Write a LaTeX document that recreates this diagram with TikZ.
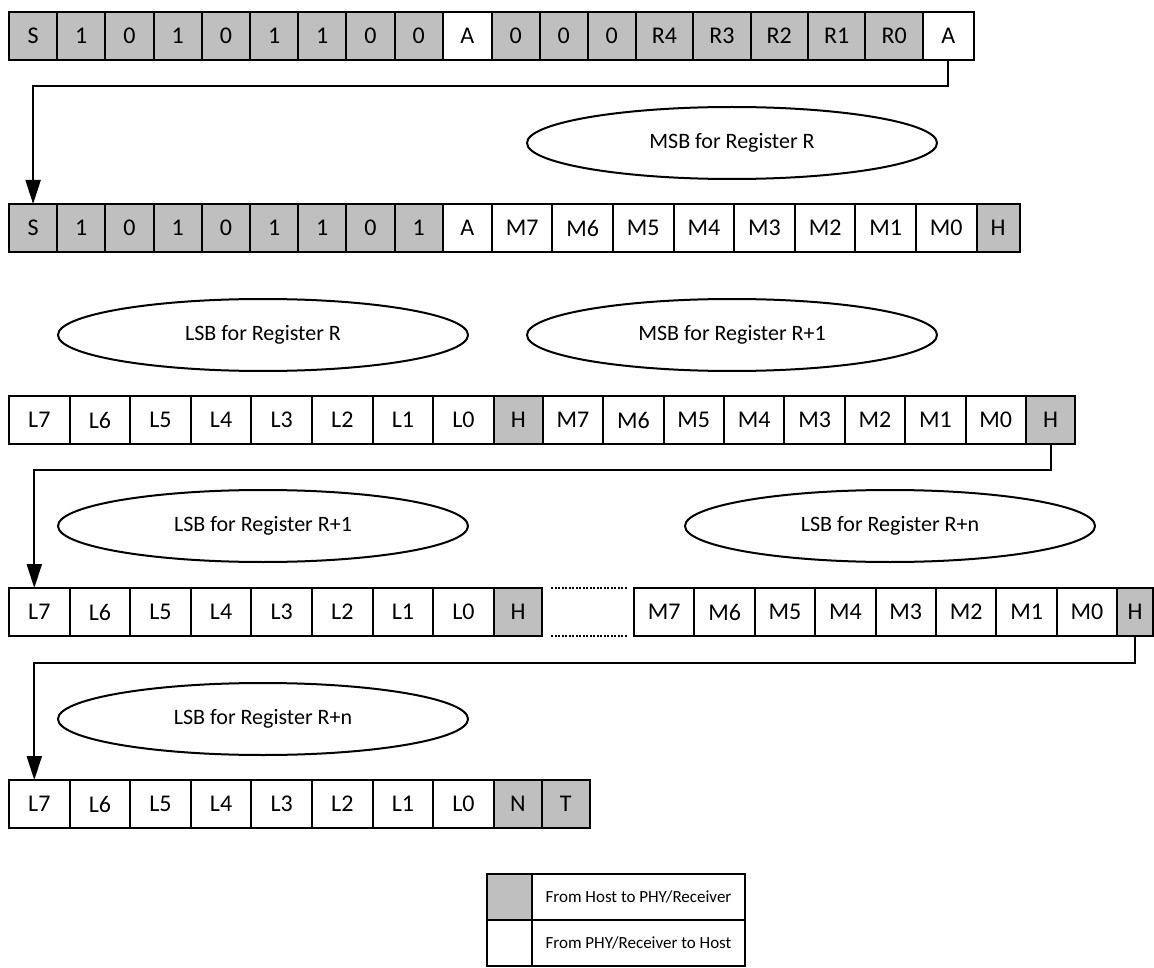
\documentclass[tikz,border=0pt]{standalone}
\usepackage{fontspec}
\setmainfont{Carlito}
\usepackage{xcolor}
\definecolor{colHost}{HTML}{BFBFBF}
\definecolor{colEdge}{HTML}{000000}
\usetikzlibrary{arrows.meta, positioning, shapes.geometric}
\tikzset{
    bitcell/.style={
        draw=colEdge, fill=#1,
        line width=2pt,
        minimum height=48pt,
        inner sep=0pt, outer sep=0pt,
        anchor=west,
        font=\fontsize{24}{28}\selectfont
    },
    bitcell/.default=white,
    regnote/.style={
        ellipse, draw=colEdge, line width=2pt,
        minimum width=410pt, minimum height=72pt,
        font=\fontsize{22}{26}\selectfont
    },
    flowarrow/.style={-{Triangle[width=15pt,length=24pt]}, line width=2pt, color=colEdge},
    gapdots/.style={line width=2pt, dash pattern=on 2pt off 1.5pt, color=colEdge},
}

\begin{document}
\begin{tikzpicture}[x=1pt, y=-1pt]
    \useasboundingbox (0,0) rectangle (1154,968);

    % Row 1: address byte and register byte
    \coordinate (r1c0) at (9,36);
    \foreach \txt/\cw/\fl [count=\i, remember=\i as \j (initially 0)] in
        {S/48.2/colHost, 1/48.2/colHost, 0/48.2/colHost, 1/48.2/colHost, 0/48.2/colHost,
         1/48.2/colHost, 1/48.2/colHost, 0/48.2/colHost, 0/48.2/colHost, A/49/white,
         0/48/colHost, 0/48/colHost, 0/48/colHost, R4/57.4/colHost, R3/57.4/colHost,
         R2/57.4/colHost, R1/57.4/colHost, R0/57.4/colHost, A/51/white}
        \node[bitcell=\fl, minimum width=\cw, right=0pt of r1c\j] (r1c\i) {\txt};

    % Row 2: repeated start, read address, MSB of R
    \coordinate (r2c0) at (9,228);
    \foreach \txt/\cw/\fl [count=\i, remember=\i as \j (initially 0)] in
        {S/48.2/colHost, 1/48.2/colHost, 0/48.2/colHost, 1/48.2/colHost, 0/48.2/colHost,
         1/48.2/colHost, 1/48.2/colHost, 0/48.2/colHost, 1/48.2/colHost, A/49/white,
         M7/60.6/white, M6/60.6/white, M5/60.6/white, M4/60.6/white, M3/60.6/white,
         M2/60.6/white, M1/60.6/white, M0/60.6/white, H/43/colHost}
        \node[bitcell=\fl, minimum width=\cw, right=0pt of r2c\j] (r2c\i) {\txt};

    % Row 3
    \coordinate (r3c0) at (9,420);
    \foreach \txt/\cw/\fl [count=\i, remember=\i as \j (initially 0)] in
        {L7/60.6/white, L6/60.6/white, L5/60.6/white, L4/60.6/white, L3/60.6/white,
         L2/60.6/white, L1/60.6/white, L0/60.6/white, H/49/colHost,
         M7/60.4/white, M6/60.4/white, M5/60.4/white, M4/60.4/white, M3/60.4/white,
         M2/60.4/white, M1/60.4/white, M0/60.4/white, H/49/colHost}
        \node[bitcell=\fl, minimum width=\cw, right=0pt of r3c\j] (r3c\i) {\txt};

    % Row 4, in two parts
    \coordinate (r4c0) at (9,612);
    \foreach \txt/\cw/\fl [count=\i, remember=\i as \j (initially 0)] in
        {L7/60.6/white, L6/60.6/white, L5/60.6/white, L4/60.6/white, L3/60.6/white,
         L2/60.6/white, L1/60.6/white, L0/60.6/white, H/48.5/colHost}
        \node[bitcell=\fl, minimum width=\cw, right=0pt of r4c\j] (r4c\i) {\txt};
    \coordinate (r4m0) at (634,612);
    \foreach \txt/\cw/\fl [count=\i, remember=\i as \j (initially 0)] in
        {M7/60.4/white, M6/60.4/white, M5/60.4/white, M4/60.4/white, M3/60.4/white,
         M2/60.4/white, M1/60.4/white, M0/60.4/white, H/36/colHost}
        \node[bitcell=\fl, minimum width=\cw, right=0pt of r4m\j] (r4m\i) {\txt};
    \draw[gapdots] ([xshift=9pt]r4c9.north east) -- ([xshift=-7pt]r4m1.north west);
    \draw[gapdots] ([xshift=9pt]r4c9.south east) -- ([xshift=-7pt]r4m1.south west);

    % Row 5
    \coordinate (r5c0) at (9,804);
    \foreach \txt/\cw/\fl [count=\i, remember=\i as \j (initially 0)] in
        {L7/60.6/white, L6/60.6/white, L5/60.6/white, L4/60.6/white, L3/60.6/white,
         L2/60.6/white, L1/60.6/white, L0/60.6/white, N/48/colHost, T/48/colHost}
        \node[bitcell=\fl, minimum width=\cw, right=0pt of r5c\j] (r5c\i) {\txt};

    % Register notes
    \node[regnote] (msbR) at (732,143) {MSB for Register R};
    \node[regnote] (lsbR) at (263,335) {LSB for Register R};
    \node[regnote] (msbRone) at (732,335) {MSB for Register R+1};
    \node[regnote] (lsbRone) at (263,526) {LSB for Register R+1};
    \node[regnote] (lsbRnA) at (890,526) {LSB for Register R+n};
    \node[regnote] (lsbRnB) at (263,719) {LSB for Register R+n};

    % Wrap-around arrows
    \draw[flowarrow] (r1c19.south) -- ++(0,26) -| (r2c1.north);
    \draw[flowarrow] (r3c18.south) -- ++(0,26) -| ([xshift=-5pt]r4c1.north);
    \draw[flowarrow] (r4m9.south) -- ++(0,27) -| ([xshift=-5pt]r5c1.north);

    % Legend
    \node[bitcell=colHost, minimum width=45, minimum height=46] (keyhost) at (487,897) {};
    \node[bitcell, minimum width=213, minimum height=46, right=0pt of keyhost,
          font=\fontsize{17}{20}\selectfont] (keyhosttxt) {From Host to PHY/Receiver};
    \node[bitcell, minimum width=45, minimum height=46, below=0pt of keyhost] (keyphy) {};
    \node[bitcell, minimum width=213, minimum height=46, right=0pt of keyphy,
          font=\fontsize{17}{20}\selectfont] (keyphytxt) {From PHY/Receiver to Host};
\end{tikzpicture}
\end{document}
